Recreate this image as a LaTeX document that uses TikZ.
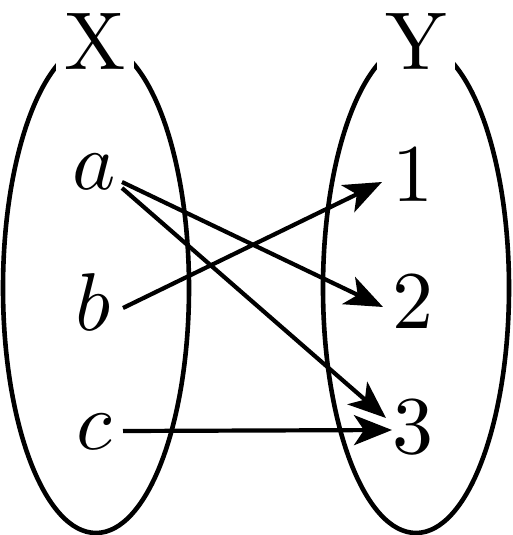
\documentclass[tikz,border=0pt]{standalone}
\usetikzlibrary{arrows.meta,calc}
\begin{document}
\begin{tikzpicture}[x=0.5pt,y=-0.5pt,
  lbl/.style={inner sep=0pt,scale=4.1},
  setname/.style={fill=white,inner xsep=1pt,inner ysep=0.8pt,scale=4.1},
  setline/.style={line width=2.3pt},
  maparrow/.style={line width=2.1pt,-{Stealth[length=19pt,width=15pt,inset=5pt]}}]
\useasboundingbox (0,0) rectangle (513,535);
\draw[setline] (96,288) ellipse [x radius=46.5pt, y radius=122.5pt];
\draw[setline] (416,288) ellipse [x radius=46.5pt, y radius=122.5pt];
\node[setname] (X) at (95,41) {X};
\node[setname] (Y) at (416,41) {Y};
\node[lbl] (a) at (94,172) {$a$};
\node[lbl] (b) at (93,302) {$b$};
\node[lbl] (c) at (94,432) {$c$};
\node[lbl] (n1) at (413,175) {$1$};
\node[lbl] (n2) at (413,302) {$2$};
\node[lbl] (n3) at (413,427) {$3$};
\draw[maparrow] ($(a)+(28,10)$) -- ($(n2)+(-30,5)$);
\draw[maparrow] ($(a)+(28,16)$) -- ($(n3)+(-27,-9)$);
\draw[maparrow] ($(b)+(30,6)$) -- ($(n1)+(-31,7)$);
\draw[maparrow] ($(c)+(29,-1)$) -- ($(n3)+(-21,3)$);
\end{tikzpicture}
\end{document}
